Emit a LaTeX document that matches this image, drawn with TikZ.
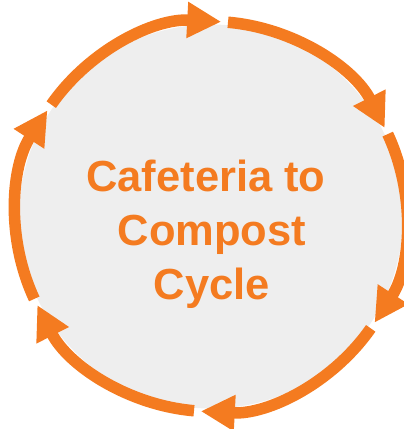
\documentclass[tikz,border=0pt]{standalone}
\usepackage{fontspec}
\setmainfont{Liberation Sans}
\usetikzlibrary{arrows.meta}
\definecolor{cycorange}{RGB}{244,123,32}
\definecolor{cycgray}{RGB}{238,238,238}
\tikzset{
  cyclearc/.style={draw=cycorange, line width=11.5pt, -{Triangle[length=34pt,width=34pt]}},
  titletext/.style={text=cycorange, font=\bfseries\fontsize{43.5}{54}\selectfont, align=center, inner sep=0pt}
}
\begin{document}
\begin{tikzpicture}[x=1pt,y=1pt]
\useasboundingbox (0,0) rectangle (404,429);
\clip (0,0) rectangle (404,429);
\coordinate (c) at (211,212.5);
\fill[cycgray] (c) circle[radius=192];
\foreach \s/\e [count=\i] in {145/87, 85/27, 25/-33, -35/-93, -95/-153, -155/-213} {
  \coordinate (s\i) at ([shift={(c)}]\s:195);
  \draw[cyclearc] (s\i) arc[start angle=\s, end angle=\e, radius=195];
}
\node[titletext, anchor=north] (title) at (212,269.5) {Cafeteria to\rule{0.278em}{0pt}\\Compost\\Cycle};
\end{tikzpicture}
\end{document}
